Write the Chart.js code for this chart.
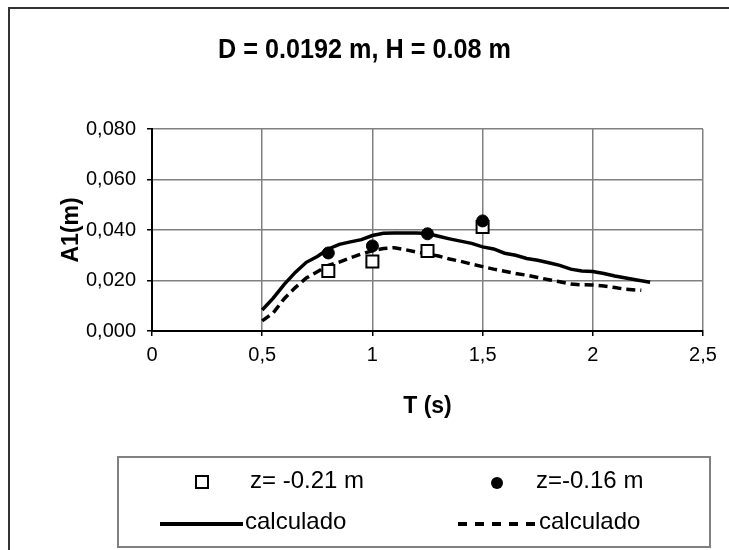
<!DOCTYPE html>
<html>
<head>
<meta charset="utf-8">
<script src="https://cdn.jsdelivr.net/npm/chart.js@4.4.1/dist/chart.umd.min.js"></script>
<style>
  body { margin: 0; background: #fff; }
  #wrap { width: 729px; height: 550px; }
</style>
</head>
<body>
<div id="wrap"><canvas id="chart" width="729" height="550"></canvas></div>
<script>
// measured points
const measT = [0.8, 1.0, 1.25, 1.5];
const measZ021 = [0.0238, 0.0275, 0.0317, 0.0412];
const measZ016 = [0.0309, 0.0337, 0.0385, 0.0436];

// calculated curves
const solidT = [0.50, 0.55, 0.60, 0.65, 0.70, 0.75, 0.80, 0.85, 0.90, 0.95, 1.00, 1.05, 1.10, 1.15, 1.20,
    1.25, 1.30, 1.35, 1.40, 1.45, 1.50, 1.55, 1.60, 1.65, 1.70, 1.75, 1.80, 1.85, 1.90, 1.95, 2.00,
    2.05, 2.10, 2.15, 2.20, 2.26];
const solidA = [0.0083, 0.0130, 0.0185, 0.0232, 0.0272, 0.0295, 0.0325, 0.0343, 0.0353, 0.0362, 0.0378,
    0.0387, 0.0388, 0.0388, 0.0388, 0.0386, 0.0375, 0.0365, 0.0356, 0.0347, 0.0333, 0.0325, 0.0308,
    0.0300, 0.0287, 0.0280, 0.0270, 0.0260, 0.0245, 0.0238, 0.0236, 0.0228, 0.0218, 0.0210, 0.0202, 0.0193];
const dashedT = [0.50, 0.55, 0.60, 0.65, 0.70, 0.75, 0.80, 0.85, 0.90, 0.95, 1.00, 1.05, 1.10, 1.15, 1.20,
    1.25, 1.30, 1.35, 1.40, 1.45, 1.50, 1.55, 1.60, 1.65, 1.70, 1.75, 1.80, 1.85, 1.90, 1.95, 2.00,
    2.05, 2.10, 2.15, 2.22];
const dashedA = [0.0040, 0.0072, 0.0128, 0.0172, 0.0210, 0.0235, 0.0260, 0.0273, 0.0290, 0.0305, 0.0318,
    0.0327, 0.0330, 0.0322, 0.0313, 0.0305, 0.0297, 0.0285, 0.0276, 0.0265, 0.0255, 0.0245, 0.0237,
    0.0228, 0.0221, 0.0212, 0.0203, 0.0195, 0.0186, 0.0183, 0.0182, 0.0178, 0.0172, 0.0165, 0.0161];

const xTicks = [0, 0.5, 1, 1.5, 2, 2.5];
const yLabels = ['0,000', '', '0,020', '', '0,040', '', '0,060', '', '0,080'];
const chartTitle = 'D = 0.0192 m, H = 0.08 m';

const FONT = "'Liberation Sans', Arial, sans-serif";

function pairs(xs, ys) {
    return xs.map(function(x, i) { return { x: x, y: ys[i] }; });
}

// outer frame and the (narrow bold) title
const framePlugin = {
    id: 'frame',
    beforeDraw: function(chart) {
        const ctx = chart.ctx;
        ctx.save();
        ctx.fillStyle = '#fff';
        ctx.fillRect(0, 0, chart.width, chart.height);
        ctx.strokeStyle = '#333';
        ctx.lineWidth = 2;
        ctx.strokeRect(9, 8, 760, 580);

        ctx.translate(364.5, 50);
        ctx.scale(0.9, 1);
        ctx.font = 'bold 28px ' + FONT;
        ctx.fillStyle = '#000';
        ctx.textAlign = 'center';
        ctx.textBaseline = 'middle';
        ctx.fillText(chartTitle, 0, 0);
        ctx.restore();
    }
};

// two column legend in a box, like the spreadsheet one
const boxLegend = {
    id: 'boxLegend',
    afterDraw: function(chart) {
        const ctx = chart.ctx;
        const ds = chart.data.datasets;
        ctx.save();
        ctx.strokeStyle = '#808080';
        ctx.lineWidth = 2;
        ctx.strokeRect(118, 457, 592, 90);

        ctx.font = '24px ' + FONT;
        ctx.textBaseline = 'middle';

        // row 1: markers
        ctx.lineWidth = 2;
        ctx.strokeStyle = '#000';
        ctx.fillStyle = '#fff';
        ctx.fillRect(196, 476, 12, 12);
        ctx.strokeRect(196, 476, 12, 12);
        ctx.fillStyle = '#000';
        ctx.beginPath();
        ctx.arc(497, 483, 6, 0, Math.PI * 2);
        ctx.fill();
        ctx.fillText(ds[1].label, 250, 481);
        ctx.fillText(ds[0].label, 536, 481);

        // row 2: lines
        ctx.lineWidth = 4;
        ctx.beginPath();
        ctx.moveTo(160, 524);
        ctx.lineTo(243, 524);
        ctx.stroke();
        ctx.setLineDash([9, 8]);
        ctx.beginPath();
        ctx.moveTo(458, 524);
        ctx.lineTo(536, 524);
        ctx.stroke();
        ctx.setLineDash([]);
        ctx.fillText(ds[2].label, 245, 522);
        ctx.fillText(ds[3].label, 539, 522);
        ctx.restore();
    }
};

new Chart(document.getElementById('chart').getContext('2d'), {
    type: 'scatter',
    data: {
        datasets: [{
            label: 'z=-0.16 m',
            data: pairs(measT, measZ016),
            pointStyle: 'circle',
            pointRadius: 6,
            backgroundColor: '#000',
            borderColor: '#000',
            borderWidth: 1,
            showLine: false
        }, {
            label: 'z= -0.21 m',
            data: pairs(measT, measZ021),
            pointStyle: 'rect',
            pointRadius: 8.5,
            backgroundColor: '#fff',
            borderColor: '#000',
            borderWidth: 2,
            showLine: false
        }, {
            label: 'calculado',
            data: pairs(solidT, solidA),
            showLine: true,
            pointRadius: 0,
            borderColor: '#000',
            borderWidth: 3.5,
            tension: 0
        }, {
            label: 'calculado',
            data: pairs(dashedT, dashedA),
            showLine: true,
            pointRadius: 0,
            borderColor: '#000',
            borderWidth: 3.5,
            borderDash: [9, 5],
            tension: 0
        }]
    },
    options: {
        responsive: false,
        animation: false,
        layout: { padding: { left: 0, right: 26, top: 129, bottom: 129 } },
        plugins: {
            legend: { display: false },
            tooltip: { enabled: false },
            title: { display: false }
        },
        scales: {
            x: {
                type: 'linear',
                min: 0,
                max: 2.5,
                afterFit: function(scale) { scale.height = 90; },
                afterBuildTicks: function(scale) {
                    scale.ticks = xTicks.map(function(v) { return { value: v }; });
                },
                ticks: {
                    color: '#000',
                    font: { family: FONT, size: 20 },
                    padding: 7,
                    maxRotation: 0,
                    callback: function(v) { return String(v).replace('.', ','); }
                },
                grid: { color: '#808080', lineWidth: 1.5, tickColor: '#000', tickLength: 5 },
                border: { color: '#000', width: 2 },
                title: {
                    display: true,
                    text: 'T (s)',
                    color: '#000',
                    font: { family: FONT, size: 23, weight: 'bold' },
                    padding: { top: 0, bottom: 1 }
                }
            },
            y: {
                min: 0,
                max: 0.08,
                afterFit: function(scale) { scale.width = 152; },
                ticks: {
                    stepSize: 0.01,
                    color: '#000',
                    font: { family: FONT, size: 20 },
                    padding: 11,
                    callback: function(v, i) { return yLabels[i]; }
                },
                grid: { color: '#808080', lineWidth: 1.5, tickColor: '#000', tickLength: 5 },
                border: { color: '#000', width: 2 },
                title: {
                    display: true,
                    text: 'A1(m)',
                    color: '#000',
                    font: { family: FONT, size: 23, weight: 'bold' },
                    padding: { top: 58, bottom: 0 }
                }
            }
        }
    },
    plugins: [framePlugin, boxLegend]
});
</script>
</body>
</html>
